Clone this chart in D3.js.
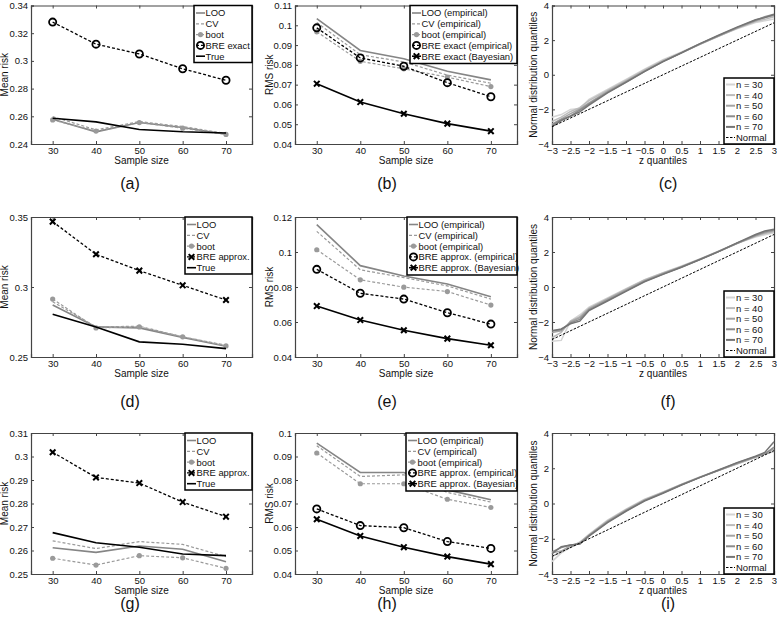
<!DOCTYPE html>
<html><head><meta charset="utf-8">
<script src="https://cdn.jsdelivr.net/npm/d3@7"></script>
<style>
body{margin:0;background:#fff;}
svg{display:block;}
text{font-family:"Liberation Sans",Arial,sans-serif;}
</style></head>
<body>
<script>
// ---------- data ----------
const sampleSizes = [30, 40, 50, 60, 70];

// (a)
const aLOO  = [0.2578, 0.2488, 0.2555, 0.2519, 0.2471];
const aCV   = [0.2598, 0.2502, 0.2562, 0.2526, 0.2476];
const aBoot = [0.2574, 0.2493, 0.2555, 0.2514, 0.2469];
const aBRE  = [0.3280, 0.3121, 0.3050, 0.2943, 0.2860];
const aTrue = [0.2586, 0.2560, 0.2505, 0.2488, 0.2479];
// (b)
const bLOO    = [0.1034, 0.0873, 0.0831, 0.0768, 0.0724];
const bCV     = [0.1014, 0.0851, 0.0815, 0.0748, 0.0707];
const bBoot   = [0.0967, 0.0818, 0.0780, 0.0738, 0.0690];
const bBREemp = [0.0987, 0.0835, 0.0793, 0.0710, 0.0639];
const bBREbay = [0.0705, 0.0612, 0.0553, 0.0503, 0.0465];
// (d)
const dLOO  = [0.2871, 0.2715, 0.2708, 0.2639, 0.2577];
const dCV   = [0.2895, 0.2715, 0.2720, 0.2644, 0.2584];
const dBoot = [0.2914, 0.2708, 0.2715, 0.2644, 0.2579];
const dBRE  = [0.3467, 0.3234, 0.3117, 0.3012, 0.2907];
const dTrue = [0.2806, 0.2715, 0.2608, 0.2591, 0.2560];
// (e)
const eLOO    = [0.1156, 0.0922, 0.0863, 0.0817, 0.0744];
const eCV     = [0.1118, 0.0898, 0.0854, 0.0806, 0.0731];
const eBoot   = [0.1013, 0.0841, 0.0799, 0.0774, 0.0697];
const eBREemp = [0.0901, 0.0764, 0.0731, 0.0653, 0.0588];
const eBREbay = [0.0691, 0.0611, 0.0553, 0.0505, 0.0467];
// (g)
const gLOO  = [0.2612, 0.2592, 0.2619, 0.2605, 0.2552];
const gCV   = [0.2641, 0.2608, 0.2638, 0.2626, 0.2574];
const gBoot = [0.2567, 0.2538, 0.2578, 0.2569, 0.2524];
const gBRE  = [0.3018, 0.2911, 0.2887, 0.2806, 0.2744];
const gTrue = [0.2676, 0.2633, 0.2614, 0.2585, 0.2578];
// (h)
const hLOO    = [0.0957, 0.0832, 0.0832, 0.0758, 0.0716];
const hCV     = [0.0946, 0.0815, 0.0822, 0.0747, 0.0706];
const hBoot   = [0.0915, 0.0784, 0.0784, 0.0718, 0.0683];
const hBREemp = [0.0677, 0.0606, 0.0597, 0.0538, 0.0509];
const hBREbay = [0.0633, 0.0562, 0.0514, 0.0474, 0.0442];

// QQ panels (c), (f), (i)
const zq = [-3, -2.75, -2.5, -2.25, -2, -1.5, -1, -0.5, 0, 0.5, 1, 1.5, 2, 2.5, 2.75, 3];
const c30 = [-2.45, -2.3, -2.0, -1.95, -1.42, -0.84, -0.27, 0.33, 0.87, 1.32, 1.8, 2.24, 2.66, 3.02, 3.12, 3.22];
const c40 = [-2.7, -2.45, -2.12, -1.9, -1.5, -0.9, -0.32, 0.28, 0.82, 1.28, 1.77, 2.22, 2.68, 3.08, 3.2, 3.35];
const c50 = [-2.85, -2.55, -2.25, -1.98, -1.62, -0.96, -0.38, 0.22, 0.78, 1.26, 1.76, 2.24, 2.7, 3.12, 3.3, 3.42];
const c60 = [-2.9, -2.6, -2.38, -2.05, -1.68, -1.02, -0.42, 0.2, 0.76, 1.26, 1.78, 2.26, 2.72, 3.15, 3.35, 3.5];
const c70 = [-3.0, -2.65, -2.4, -2.15, -1.75, -1.05, -0.44, 0.18, 0.76, 1.27, 1.8, 2.28, 2.75, 3.18, 3.3, 3.48];
const f30 = [-3.1, -3.05, -1.95, -1.6, -1.15, -0.62, -0.1, 0.42, 0.82, 1.2, 1.6, 2.05, 2.5, 2.85, 2.98, 3.1];
const f40 = [-2.9, -2.6, -1.95, -1.7, -1.2, -0.66, -0.13, 0.4, 0.8, 1.18, 1.6, 2.04, 2.5, 2.9, 3.05, 3.15];
const f50 = [-2.6, -2.5, -2.0, -1.75, -1.25, -0.7, -0.17, 0.36, 0.77, 1.16, 1.58, 2.03, 2.48, 2.92, 3.1, 3.22];
const f60 = [-2.5, -2.45, -2.05, -1.85, -1.3, -0.76, -0.22, 0.32, 0.74, 1.14, 1.57, 2.02, 2.5, 2.95, 3.15, 3.25];
const f70 = [-2.5, -2.4, -2.1, -1.95, -1.35, -0.8, -0.25, 0.3, 0.72, 1.13, 1.57, 2.02, 2.52, 3.0, 3.2, 3.3];
const i30 = [-3.3, -2.8, -2.5, -2.2, -1.75, -0.95, -0.32, 0.25, 0.66, 1.1, 1.5, 1.9, 2.25, 2.62, 2.85, 3.0];
const i40 = [-3.0, -2.75, -2.45, -2.2, -1.78, -0.98, -0.35, 0.22, 0.64, 1.08, 1.5, 1.88, 2.24, 2.62, 2.8, 2.95];
const i50 = [-2.8, -2.7, -2.4, -2.25, -1.8, -1.02, -0.38, 0.19, 0.62, 1.08, 1.48, 1.87, 2.26, 2.64, 2.85, 3.1];
const i60 = [-2.75, -2.5, -2.35, -2.3, -1.82, -1.06, -0.42, 0.16, 0.6, 1.06, 1.48, 1.88, 2.3, 2.66, 2.8, 3.2];
const i70 = [-2.85, -2.45, -2.35, -2.3, -1.85, -1.08, -0.44, 0.14, 0.58, 1.05, 1.48, 1.9, 2.32, 2.68, 2.9, 3.5];
const normalX = [-3, 3];
const normalY = [-3, 3];

// tick labels
const sizeTicks = [30, 40, 50, 60, 70];
const aTicks = [0.24, 0.26, 0.28, 0.30, 0.32, 0.34];
const bTicks = [0.04, 0.05, 0.06, 0.07, 0.08, 0.09, 0.10, 0.11];
const dTicks = [0.25, 0.30, 0.35];
const eTicks = [0.04, 0.06, 0.08, 0.10, 0.12];
const gTicks = [0.25, 0.26, 0.27, 0.28, 0.29, 0.30, 0.31];
const hTicks = [0.04, 0.05, 0.06, 0.07, 0.08, 0.09, 0.10];
const zTicks = [-3, -2.5, -2, -1.5, -1, -0.5, 0, 0.5, 1, 1.5, 2, 2.5, 3];
const qTicks = [-4, -2, 0, 2, 4];
const qqLabels = ["n = 30", "n = 40", "n = 50", "n = 60", "n = 70", "Normal"];

// ---------- layout / styles ----------
const W = 777, H = 621;
const cols = [{x0: 31, x1: 252}, {x0: 295, x1: 517}, {x0: 552, x1: 774}];
const rows = [{y0: 5.5, y1: 144}, {y0: 217, y1: 357}, {y0: 433, y1: 574}];
const captionX = [130, 387, 668];
const captionY = [189, 407, 609];

const ST = {
  loo:  {stroke: "#858585", width: 1.6, dash: null, marker: null},
  cv:   {stroke: "#9a9a9a", width: 1.2, dash: "3,2", marker: null},
  boot: {stroke: "#9a9a9a", width: 1.2, dash: "3,2", marker: "dot"},
  breO: {stroke: "#000", width: 1.3, dash: "3,2", marker: "circle"},
  breX: {stroke: "#000", width: 1.3, dash: "3,2", marker: "x"},
  bayX: {stroke: "#000", width: 1.6, dash: null, marker: "x"},
  tru:  {stroke: "#000", width: 1.6, dash: null, marker: null}
};
const qqColors = ["#d4d4d4", "#bcbcbc", "#a4a4a4", "#8c8c8c", "#747474"];

const svg = d3.select("body").append("svg").attr("width", W).attr("height", H);

function fmt(v) { return String(+v.toFixed(4)); }
function fmtZ(v) { return v < 0 ? "\u2212" + String(-v) : String(v); }

function frame(c, r, xs, ys, xt, yt, xf, yf, xlabel, ylabel, ylabX) {
  const C = cols[c], R = rows[r];
  const g = svg.append("g");
  const tl = 3;
  const axB = g.append("g").attr("transform", `translate(0,${R.y1})`)
    .call(d3.axisBottom(xs).tickValues(xt).tickSize(-tl).tickPadding(4).tickFormat(xf));
  const axT = g.append("g").attr("transform", `translate(0,${R.y0})`)
    .call(d3.axisTop(xs).tickValues(xt).tickSize(-tl).tickFormat(""));
  const axL = g.append("g").attr("transform", `translate(${C.x0},0)`)
    .call(d3.axisLeft(ys).tickValues(yt).tickSize(-tl).tickPadding(3).tickFormat(yf));
  const axR = g.append("g").attr("transform", `translate(${C.x1},0)`)
    .call(d3.axisRight(ys).tickValues(yt).tickSize(-tl).tickFormat(""));
  [axB, axT, axL, axR].forEach(a => {
    a.select(".domain").attr("stroke", "#444").attr("stroke-width", 1.2);
    a.selectAll(".tick line").attr("stroke", "#444");
    a.selectAll("text").attr("font-size", 9.5).attr("fill", "#111")
      .attr("font-family", "'Liberation Sans', Arial, sans-serif");
  });
  axB.selectAll("text").attr("dy", "0.6em");
  g.append("text").attr("x", (C.x0 + C.x1) / 2).attr("y", R.y1 + 20).attr("text-anchor", "middle")
    .attr("font-size", 10).attr("fill", "#111").text(xlabel);
  g.append("text").attr("transform", `translate(${ylabX},${(R.y0 + R.y1) / 2}) rotate(-90)`)
    .attr("text-anchor", "middle").attr("font-size", 10).attr("fill", "#111").text(ylabel);
  return g;
}

function marker(g, kind, x, y, color) {
  if (kind === "dot") {
    g.append("circle").attr("cx", x).attr("cy", y).attr("r", 2.6).attr("fill", color);
  } else if (kind === "circle") {
    g.append("circle").attr("cx", x).attr("cy", y).attr("r", 3.6).attr("fill", "none")
      .attr("stroke", color).attr("stroke-width", 1.8);
  } else if (kind === "x") {
    const s = 2.8;
    g.append("path").attr("d", `M${x - s},${y - s}L${x + s},${y + s}M${x - s},${y + s}L${x + s},${y - s}`)
      .attr("stroke", color).attr("stroke-width", 2);
  }
}

function riskPanel(c, r, ydom, yticks, ylabel, ylabX, series, legend, caption) {
  const C = cols[c], R = rows[r];
  const xs = d3.scaleLinear().domain([25, 76]).range([C.x0, C.x1]);
  const ys = d3.scaleLinear().domain(ydom).range([R.y1, R.y0]);
  const g = frame(c, r, xs, ys, sizeTicks, yticks, d => String(d), fmt, "Sample size", ylabel, ylabX);
  const line = d3.line().x((d, i) => xs(sampleSizes[i])).y(d => ys(d));
  series.forEach(s => {
    g.append("path").datum(s.vals).attr("d", line).attr("fill", "none")
      .attr("stroke", s.st.stroke).attr("stroke-width", s.st.width)
      .attr("stroke-dasharray", s.st.dash);
    if (s.st.marker) s.vals.forEach((v, i) => marker(g, s.st.marker, xs(sampleSizes[i]), ys(v), s.st.stroke));
  });
  const lg = g.append("g");
  lg.append("rect").attr("x", legend.x).attr("y", R.y0).attr("width", C.x1 - legend.x)
    .attr("height", legend.h).attr("fill", "#fff").attr("stroke", "#000").attr("stroke-width", 1.5);
  series.forEach((s, k) => {
    const yy = R.y0 + 7.5 + k * 10.8;
    lg.append("line").attr("x1", legend.x + 2).attr("x2", legend.x + 11).attr("y1", yy).attr("y2", yy)
      .attr("stroke", s.st.stroke).attr("stroke-width", s.st.width).attr("stroke-dasharray", s.st.dash);
    if (s.st.marker) marker(lg, s.st.marker, legend.x + 6.5, yy, s.st.stroke);
    lg.append("text").attr("x", legend.x + 11.5).attr("y", yy + 3.4).attr("font-size", 9.4)
      .attr("fill", "#111").text(s.name);
  });
  svg.append("text").attr("x", captionX[c]).attr("y", captionY[r]).attr("text-anchor", "middle")
    .attr("font-family", "'Liberation Serif', 'Times New Roman', serif").attr("font-size", 16)
    .attr("fill", "#111").text(caption);
}

function qqPanel(c, r, lines, caption) {
  const C = cols[c], R = rows[r];
  const xs = d3.scaleLinear().domain([-3, 3]).range([C.x0, C.x1]);
  const ys = d3.scaleLinear().domain([-4, 4]).range([R.y1, R.y0]);
  const g = frame(c, r, xs, ys, zTicks, qTicks, fmtZ, fmtZ, "z quantiles", "Normal distribution quantiles", C.x0 - 15);
  const line = d3.line().x((d, i) => xs(zq[i])).y(d => ys(d));
  lines.forEach((vals, k) => {
    g.append("path").datum(vals).attr("d", line).attr("fill", "none")
      .attr("stroke", qqColors[k]).attr("stroke-width", 1.5);
  });
  const nl = d3.line().x((d, i) => xs(normalX[i])).y(d => ys(d));
  g.append("path").datum(normalY).attr("d", nl).attr("fill", "none").attr("stroke", "#000")
    .attr("stroke-width", 1).attr("stroke-dasharray", "2.5,1.5");
  const lx = 724, lw = C.x1 - lx, ly = R.y1 - 66;
  const lg = g.append("g");
  lg.append("rect").attr("x", lx).attr("y", ly).attr("width", lw).attr("height", 66)
    .attr("fill", "#fff").attr("stroke", "#000").attr("stroke-width", 1.5);
  qqLabels.forEach((lab, k) => {
    const yy = ly + 6.5 + k * 10.6;
    const isN = k === 5;
    lg.append("line").attr("x1", lx + 2).attr("x2", lx + 11).attr("y1", yy).attr("y2", yy)
      .attr("stroke", isN ? "#000" : qqColors[k]).attr("stroke-width", isN ? 1 : 2)
      .attr("stroke-dasharray", isN ? "2.5,1.5" : null);
    lg.append("text").attr("x", lx + 12).attr("y", yy + 3.4).attr("font-size", 9.5)
      .attr("fill", "#111").text(lab);
  });
  svg.append("text").attr("x", captionX[c]).attr("y", captionY[r]).attr("text-anchor", "middle")
    .attr("font-family", "'Liberation Serif', 'Times New Roman', serif").attr("font-size", 16)
    .attr("fill", "#111").text(caption);
}

// (a)
riskPanel(0, 0, [0.24, 0.34], aTicks, "Mean risk", 8, [
  {name: "LOO", vals: aLOO, st: ST.loo},
  {name: "CV", vals: aCV, st: ST.cv},
  {name: "boot", vals: aBoot, st: ST.boot},
  {name: "BRE exact", vals: aBRE, st: ST.breO},
  {name: "True", vals: aTrue, st: ST.tru}
], {x: 194, h: 57}, "(a)");
// (b)
riskPanel(1, 0, [0.04, 0.11], bTicks, "RMS risk", 273, [
  {name: "LOO (empirical)", vals: bLOO, st: ST.loo},
  {name: "CV (empirical)", vals: bCV, st: ST.cv},
  {name: "boot (empirical)", vals: bBoot, st: ST.boot},
  {name: "BRE exact (empirical)", vals: bBREemp, st: ST.breO},
  {name: "BRE exact  (Bayesian)", vals: bBREbay, st: ST.bayX}
], {x: 410, h: 58}, "(b)");
qqPanel(2, 0, [c30, c40, c50, c60, c70], "(c)");
// (d)
riskPanel(0, 1, [0.25, 0.35], dTicks, "Mean risk", 8, [
  {name: "LOO", vals: dLOO, st: ST.loo},
  {name: "CV", vals: dCV, st: ST.cv},
  {name: "boot", vals: dBoot, st: ST.boot},
  {name: "BRE approx.", vals: dBRE, st: ST.breX},
  {name: "True", vals: dTrue, st: ST.tru}
], {x: 185, h: 57}, "(d)");
// (e)
riskPanel(1, 1, [0.04, 0.12], eTicks, "RMS risk", 273, [
  {name: "LOO (empirical)", vals: eLOO, st: ST.loo},
  {name: "CV (empirical)", vals: eCV, st: ST.cv},
  {name: "boot (empirical)", vals: eBoot, st: ST.boot},
  {name: "BRE approx. (empirical)", vals: eBREemp, st: ST.breO},
  {name: "BRE approx. (Bayesian)", vals: eBREbay, st: ST.bayX}
], {x: 407, h: 58}, "(e)");
qqPanel(2, 1, [f30, f40, f50, f60, f70], "(f)");
// (g)
riskPanel(0, 2, [0.25, 0.31], gTicks, "Mean risk", 8, [
  {name: "LOO", vals: gLOO, st: ST.loo},
  {name: "CV", vals: gCV, st: ST.cv},
  {name: "boot", vals: gBoot, st: ST.boot},
  {name: "BRE approx.", vals: gBRE, st: ST.breX},
  {name: "True", vals: gTrue, st: ST.tru}
], {x: 185, h: 57}, "(g)");
// (h)
riskPanel(1, 2, [0.04, 0.10], hTicks, "RMS risk", 273, [
  {name: "LOO (empirical)", vals: hLOO, st: ST.loo},
  {name: "CV (empirical)", vals: hCV, st: ST.cv},
  {name: "boot (empirical)", vals: hBoot, st: ST.boot},
  {name: "BRE approx. (empirical)", vals: hBREemp, st: ST.breO},
  {name: "BRE approx. (Bayesian)", vals: hBREbay, st: ST.bayX}
], {x: 406, h: 58}, "(h)");
qqPanel(2, 2, [i30, i40, i50, i60, i70], "(i)");
</script>
</body></html>
